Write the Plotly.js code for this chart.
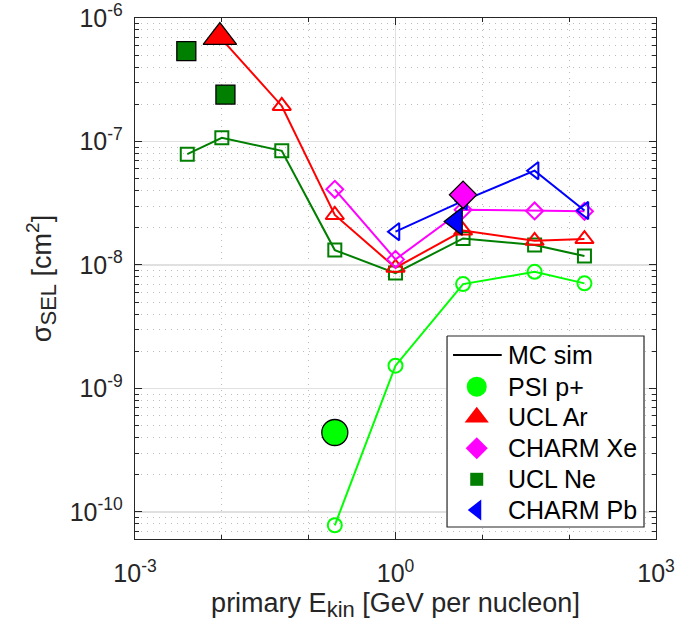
<!DOCTYPE html>
<html>
<head>
<meta charset="utf-8">
<script src="https://cdn.plot.ly/plotly-3.0.1.min.js"></script>
<style>html,body{margin:0;padding:0;background:#fff;}#chart{width:687px;height:628px;}</style>
</head>
<body>
<div id="chart"></div>
<script>
// ---- Data ----
// MC simulation curves (open markers + lines)
const psiMC_x = [0.2, 1, 6, 40, 150];
const psiMC_y = [7.8e-11, 1.53e-9, 7.0e-9, 8.8e-9, 7.1e-9];
const arMC_x = [0.0095, 0.049, 0.2, 1, 6, 40, 150];
const arMC_y = [7.0e-7, 1.94e-7, 2.54e-8, 9.5e-9, 1.9e-8, 1.57e-8, 1.62e-8];
const xeMC_x = [0.2, 1, 6, 40, 150];
const xeMC_y = [4.1e-8, 1.11e-8, 2.8e-8, 2.74e-8, 2.72e-8];
const neMC_x = [0.004, 0.01, 0.049, 0.2, 1, 6, 40, 150];
const neMC_y = [7.9e-8, 1.07e-7, 8.4e-8, 1.32e-8, 8.6e-9, 1.64e-8, 1.45e-8, 1.18e-8];
const pbMC_x = [1, 6, 40, 150];
const pbMC_y = [1.86e-8, 3.3e-8, 5.8e-8, 2.76e-8];
// Experimental data (filled markers)
const psiExp_x = [0.2];   const psiExp_y = [4.4e-10];
const arExp_x = [0.0095]; const arExp_y = [7.0e-7];
const xeExp_x = [6];      const xeExp_y = [3.7e-8];
const neExp_x = [0.0039, 0.011]; const neExp_y = [5.4e-7, 2.4e-7];
const pbExp_x = [5];      const pbExp_y = [2.25e-8];
// Labels
const legendNames = ['MC sim', 'PSI p+', 'UCL Ar', 'CHARM Xe', 'UCL Ne', 'CHARM Pb'];
const xTickVals = [1e-3, 1, 1e3];
const xTickText = ['10<sup>-3</sup>', '10<sup>0</sup>', '10<sup>3</sup>'];
const yTickVals = [1e-10, 1e-9, 1e-8, 1e-7, 1e-6];
const yTickText = ['10<sup>-10</sup>', '10<sup>-9</sup>', '10<sup>-8</sup>', '10<sup>-7</sup>', '10<sup>-6</sup>'];

// ---- Styling ----
const cGreen = '#00ff00', cRed = '#ff0000', cMag = '#ff00ff', cDG = '#007f00', cBlue = '#0000ff';
const txt = '#262626';
const FONT = '"Liberation Sans", Arial, Helvetica, sans-serif';

function mc(x, y, color, symbol, size) {
  return {x: x, y: y, type: 'scatter', mode: 'lines+markers', hoverinfo: 'skip',
    line: {color: color, width: 2},
    marker: {symbol: symbol, size: size, color: color, line: {color: color, width: 2}}};
}
function exp(x, y, color, symbol, size, name) {
  return {x: x, y: y, type: 'scatter', mode: 'markers', name: name,
    marker: {symbol: symbol, size: size, color: color, line: {color: '#000', width: 1.3}}};
}

// ---- Legend (drawn in its own small overlay subplot, px units inside the box) ----
const legRowY = [19, 50.7, 81.3, 112.3, 143.3, 174];
const legSymX = 29.7, legTextX = 59;
const legSymbols = [null, 'circle', 'triangle-up', 'diamond', 'square', 'triangle-left'];
const legColors = [null, cGreen, cRed, cMag, cDG, cBlue];
const legSizes = [null, 20, 21, 17, 13, 18];

const traces = [
  mc(neMC_x, neMC_y, cDG, 'square-open', 13),
  mc(arMC_x, arMC_y, cRed, 'triangle-up-open', 16),
  mc(psiMC_x, psiMC_y, cGreen, 'circle-open', 14),
  mc(xeMC_x, xeMC_y, cMag, 'diamond-open', 13),
  mc(pbMC_x, pbMC_y, cBlue, 'triangle-left-open', 15),
  exp(psiExp_x, psiExp_y, cGreen, 'circle', 26, legendNames[1]),
  exp(arExp_x, arExp_y, cRed, 'triangle-up', 29, legendNames[2]),
  exp(neExp_x, neExp_y, cDG, 'square', 19, legendNames[4]),
  exp(xeExp_x, xeExp_y, cMag, 'diamond', 21, legendNames[3]),
  exp(pbExp_x, pbExp_y, cBlue, 'triangle-left', 24, legendNames[5]),
  // legend box
  {x: [0, 197, 197, 0, 0], y: [0, 0, 191, 191, 0], xaxis: 'x2', yaxis: 'y2', type: 'scatter',
   mode: 'lines', fill: 'toself', fillcolor: '#fff', line: {color: txt, width: 1.2}, hoverinfo: 'skip'},
  // legend line sample
  {x: [6, 54.7], y: [legRowY[0], legRowY[0]], xaxis: 'x2', yaxis: 'y2', type: 'scatter',
   mode: 'lines', line: {color: '#000', width: 2}, hoverinfo: 'skip'}
];
for (let i = 1; i < legendNames.length; i++) {
  traces.push({x: [legSymX], y: [legRowY[i]], xaxis: 'x2', yaxis: 'y2', type: 'scatter', mode: 'markers',
    marker: {symbol: legSymbols[i], size: legSizes[i], color: legColors[i], line: {width: 0}}, hoverinfo: 'skip'});
}
const annotations = legendNames.map((n, i) => ({
  text: n, x: legTextX, y: legRowY[i], xref: 'x2', yref: 'y2', xanchor: 'left', yanchor: 'middle',
  showarrow: false, font: {family: FONT, size: 25, color: '#000'}
}));

const yMinor = [];
for (let k = -11; k <= -7; k++) for (let m = 2; m <= 9; m++) yMinor.push(m * Math.pow(10, k));
const xMinor = [1e-2, 1e-1, 1e1, 1e2];

const axisCommon = {
  showline: true, linecolor: txt, linewidth: 1.2, mirror: 'ticks',
  ticks: 'inside', ticklen: 7, tickwidth: 1, tickcolor: txt,
  showgrid: true, gridcolor: '#e0e0e0', gridwidth: 1.3,
  zeroline: false, tickmode: 'array',
  tickfont: {family: FONT, size: 25, color: txt}
};
const minorCommon = {ticks: 'inside', ticklen: 4, tickcolor: txt, showgrid: true,
  gridcolor: '#bdbdbd', griddash: '1px,5px', gridwidth: 1};

const layout = {
  width: 687, height: 628,
  margin: {l: 135, r: 31, t: 18, b: 89, pad: 0},
  paper_bgcolor: '#fff', plot_bgcolor: '#fff',
  font: {family: FONT, color: txt},
  showlegend: false,
  annotations: annotations,
  xaxis: Object.assign({}, axisCommon, {
    type: 'log', range: [-3, 3], tickvals: xTickVals, ticktext: xTickText,
    ticklabelstandoff: 12,
    minor: Object.assign({tickvals: xMinor}, minorCommon),
    title: {text: 'primary E<sub><span style="font-size:22px">kin</span></sub> [GeV per nucleon]',
      font: {family: FONT, size: 27, color: txt}, standoff: 6}
  }),
  yaxis: Object.assign({}, axisCommon, {
    type: 'log', range: [-10.219, -6], tickvals: yTickVals, ticktext: yTickText,
    ticklabelstandoff: 6,
    minor: Object.assign({tickvals: yMinor}, minorCommon),
    title: {text: 'σ<sub><span style="font-size:22px">SEL</span></sub> [cm<sup><span style="font-size:19px">2</span></sup>]',
      font: {family: FONT, size: 27, color: txt}, standoff: 10}
  }),
  xaxis2: {domain: [0.597, 0.9789], range: [-1, 198], anchor: 'y2', visible: false, fixedrange: true},
  yaxis2: {domain: [0.0211, 0.3916], range: [192, -1], anchor: 'x2', visible: false, fixedrange: true}
};

Plotly.newPlot('chart', traces, layout, {staticPlot: true, displayModeBar: false});
</script>
</body>
</html>
